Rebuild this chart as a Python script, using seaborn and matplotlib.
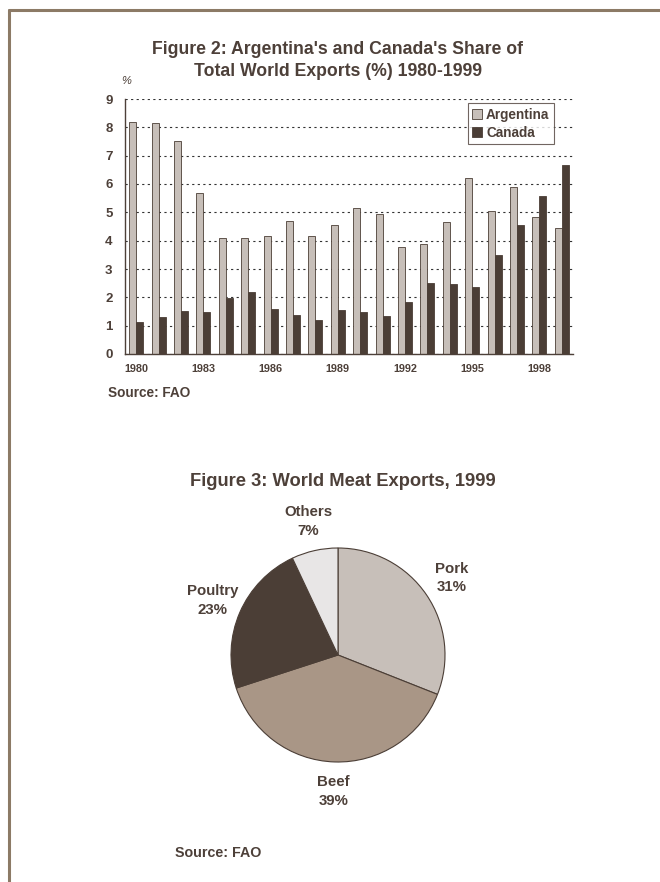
import pandas as pd
import seaborn as sns
import matplotlib.pyplot as plt
from matplotlib.lines import Line2D

# data for figure 2
years = list(range(1980, 2000))
argentina = [8.2, 8.17, 7.51, 5.7, 4.08, 4.08, 4.18, 4.71, 4.15, 4.57,
             5.16, 4.93, 3.78, 3.88, 4.65, 6.2, 5.04, 5.88, 4.82, 4.45]
canada = [1.12, 1.3, 1.51, 1.47, 1.99, 2.19, 1.6, 1.39, 1.21, 1.54,
          1.47, 1.35, 1.84, 2.5, 2.47, 2.37, 3.49, 4.57, 5.59, 6.67]

# data for figure 3
meats = ["Pork", "Beef", "Poultry", "Others"]
meat_share = [31, 39, 23, 7]

txt = "#4d4039"
arg_col = "#c7bfb9"
can_col = "#4b3e36"
frame_col = "#8c7a66"

sns.set_theme(style="white")
plt.rcParams['font.family'] = ['Liberation Sans', 'DejaVu Sans']
plt.rcParams['font.weight'] = 'bold'
plt.rcParams['text.color'] = txt

dfb = pd.DataFrame({
    "year": years * 2,
    "share": argentina + canada,
    "country": ["Argentina"] * len(years) + ["Canada"] * len(years),
})

fig = plt.figure(figsize=(6.6, 8.82), dpi=100)

# frame lines (left + top)
fig.add_artist(Line2D([9 / 660, 9 / 660], [0, 1 - 10 / 882], transform=fig.transFigure,
                      color=frame_col, lw=2.2))
fig.add_artist(Line2D([9 / 660, 1], [1 - 10 / 882, 1 - 10 / 882], transform=fig.transFigure,
                      color=frame_col, lw=2.2))

# bar chart
ax = fig.add_axes([125 / 660, 1 - 354 / 882, 448 / 660, 255 / 882])
sns.barplot(data=dfb, x="year", y="share", hue="country", palette=[arg_col, can_col],
            width=0.62, edgecolor=can_col, linewidth=0.6, saturation=1, ax=ax, zorder=2)
ax.set_xlim(-0.5, len(years) - 0.5)
ax.set_ylim(0, 9)
ax.set_yticks(range(0, 10))
ax.yaxis.grid(True, linestyle=(0, (2, 3)), color="#333333", linewidth=0.8, zorder=0)
ax.set_axisbelow(True)
for s in ["top", "right"]:
    ax.spines[s].set_visible(False)
for s in ["left", "bottom"]:
    ax.spines[s].set_color(txt)
    ax.spines[s].set_linewidth(1)
ax.set_xticks([i - 0.5 for i in range(len(years) + 1)])
ax.set_xticklabels([])
ax.set_xticks([i for i in range(0, len(years), 3)], minor=True)
ax.set_xticklabels([str(years[i]) for i in range(0, len(years), 3)], minor=True,
                   fontsize=7.8, fontweight="bold", color=txt)
ax.tick_params(axis="x", which="major", direction="out", length=4, width=1, color=txt)
ax.tick_params(axis="x", which="minor", length=0, pad=7)
ax.tick_params(axis="y", direction="out", length=4, width=1, color=txt, labelsize=9.5,
               labelcolor=txt, pad=5)
for lab in ax.get_yticklabels():
    lab.set_fontweight("bold")
ax.set_xlabel("")
ax.set_ylabel("")
leg = ax.legend(loc="upper right", bbox_to_anchor=(0.958, 0.985), fontsize=9.8, frameon=True,
                fancybox=False, edgecolor=txt, handlelength=0.7, handleheight=0.7,
                handletextpad=0.3, borderpad=0.35, labelspacing=0.3, borderaxespad=0)
leg.get_frame().set_linewidth(0.8)
for t in leg.get_texts():
    t.set_color(txt)
    t.set_fontweight("bold")

fig.text(338 / 660, 1 - 50 / 882, "Figure 2: Argentina's and Canada's Share of",
         ha="center", va="center", fontsize=12.7, fontweight="bold", color=txt)
fig.text(338 / 660, 1 - 72 / 882, "Total World Exports (%) 1980-1999",
         ha="center", va="center", fontsize=12.7, fontweight="bold", color=txt)
fig.text(121 / 660, 1 - 81 / 882, "%", ha="left", va="center", fontsize=8,
         style="italic", fontweight="normal", color=txt)
fig.text(108 / 660, 1 - 393 / 882, "Source: FAO", ha="left", va="center",
         fontsize=9.8, fontweight="bold", color=txt)

# pie chart
fig.text(343 / 660, 1 - 481 / 882, "Figure 3: World Meat Exports, 1999",
         ha="center", va="center", fontsize=13.2, fontweight="bold", color=txt)
pax = fig.add_axes([(338 - 107) / 660, 1 - (655 + 107) / 882, 214 / 660, 214 / 882])
pie_cols = [arg_col, "#a99686", can_col, "#e8e6e6"]
pie_labels = [f"{m}\n{v}%" for m, v in zip(meats, meat_share)]
pax.pie(meat_share, labels=pie_labels, colors=pie_cols, startangle=90, counterclock=False,
        labeldistance=1.28,
        wedgeprops=dict(edgecolor=can_col, linewidth=0.8),
        textprops=dict(ha="center", va="center", fontsize=10.8, fontweight="bold", color=txt,
                       linespacing=1.45))
pax.set_xlim(-1, 1)
pax.set_ylim(-1, 1)
pax.set_aspect("equal")
pax.axis("off")

fig.text(175 / 660, 1 - 853 / 882, "Source: FAO", ha="left", va="center",
         fontsize=10.3, fontweight="bold", color=txt)

fig.savefig("out.png", dpi=100)
